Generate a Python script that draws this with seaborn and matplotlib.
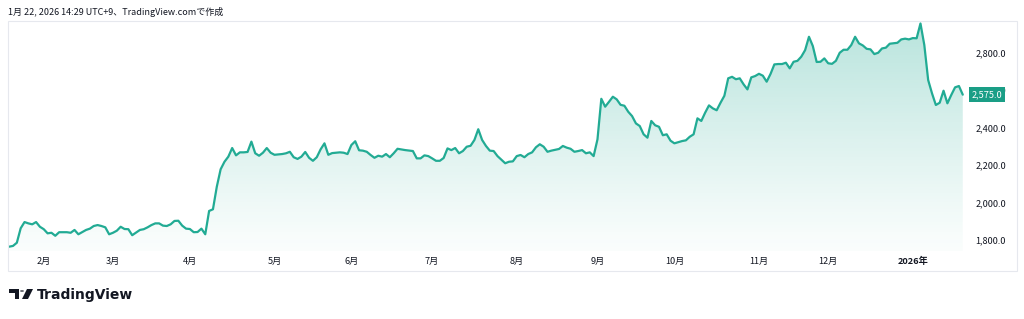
import numpy as np
import pandas as pd
import matplotlib
matplotlib.use("Agg")
import matplotlib.pyplot as plt
import matplotlib.colors as mcolors
from matplotlib.patches import Rectangle, Polygon, Circle
import seaborn as sns

# ---------------- data (trading-session index, close price) ----------------
session = [0, 1, 2, 3, 4, 5, 6, 7, 8, 9, 10, 11, 12, 13, 15, 16, 17, 18, 20, 21,
           22, 23, 24, 25, 26, 27, 28, 29, 30, 31, 32, 34, 35, 36, 37, 38, 39, 40, 41, 42,
           43, 44, 45, 46, 47, 48, 49, 50, 51, 52, 53, 54, 55, 56, 57, 58, 59, 60, 61, 62,
           63, 64, 65, 66, 67, 68, 69, 71, 72, 73, 74, 75, 76, 77, 78, 79, 80, 81, 82, 83,
           84, 86, 87, 88, 89, 90, 91, 92, 93, 94, 95, 96, 97, 98, 99, 100, 101, 103, 105, 106,
           107, 108, 109, 110, 111, 112, 113, 114, 115, 116, 117, 118, 119, 120, 121, 122, 123,
           124, 125, 126, 127, 129, 130, 131, 132, 133, 134, 135, 136, 137, 138, 139, 140, 141,
           143, 144, 145, 146, 147, 148, 149, 150, 151, 152, 153, 154, 155, 156, 157, 158, 159,
           160, 161, 162, 163, 164, 165, 166, 167, 168, 169, 170, 171, 172, 173, 175, 176, 177,
           178, 179, 180, 181, 182, 183, 184, 185,
           186, 187, 188, 189, 190, 191, 192, 193, 194, 195, 196, 197, 198, 199, 200, 201, 202,
           203, 204, 205, 206, 207, 208, 209, 210, 211, 212, 213, 214, 215, 216, 217, 218, 219,
           220, 221, 222, 223, 224, 225, 226, 227, 228, 229, 231, 232, 233, 234, 235, 236, 237,
           238, 239, 240, 241, 242, 243, 244, 245, 246, 247, 248]
price = [1766, 1770, 1787, 1864, 1897, 1890, 1885, 1897, 1872, 1859, 1837, 1840, 1824, 1843, 1843, 1840, 1855, 1832, 1855, 1862,
         1876, 1881, 1876, 1869, 1832, 1840, 1851, 1872, 1860, 1859, 1827, 1855, 1859, 1869, 1881, 1890, 1890, 1878, 1876, 1885,
         1903, 1904, 1878, 1862, 1860, 1843, 1844, 1862, 1832, 1956, 1965, 2085, 2178, 2218, 2245, 2291, 2252, 2268, 2268, 2270,
         2325, 2263, 2250, 2266, 2291, 2266, 2255, 2259, 2263, 2271, 2242, 2233, 2245, 2270, 2239, 2223, 2242, 2284, 2316, 2255,
         2264, 2268, 2266, 2259, 2307, 2327, 2279, 2277, 2271, 2254, 2239, 2250, 2245, 2259, 2242, 2263, 2287, 2280, 2275, 2236,
         2236, 2252, 2248, 2236, 2223, 2223, 2238, 2289, 2280, 2291, 2263, 2275, 2298, 2303, 2334, 2391, 2334,
         2302, 2277, 2275, 2248, 2210, 2218, 2220, 2248, 2254, 2242, 2259, 2268, 2295, 2311, 2298, 2271, 2277,
         2286, 2302, 2293, 2287, 2271, 2275, 2280, 2263, 2268, 2248, 2337, 2553, 2511, 2537, 2564, 2550, 2521,
         2516, 2484, 2461, 2422, 2408, 2364, 2346, 2435, 2412, 2404, 2359, 2364, 2330, 2316, 2328, 2332, 2351,
         2364, 2449, 2435, 2479, 2518, 2502, 2492, 2532,
         2569, 2662, 2670, 2657, 2662, 2630, 2603, 2667, 2674, 2686, 2676, 2644, 2685, 2736, 2738, 2738, 2745,
         2715, 2750, 2755, 2777, 2812, 2883, 2834, 2749, 2750, 2768, 2742, 2739, 2755, 2798, 2814, 2814, 2839,
         2883, 2848, 2837, 2819, 2816, 2791, 2798, 2821, 2825, 2846, 2851, 2869, 2873, 2869, 2876, 2875, 2954,
         2839, 2653, 2582, 2520, 2532, 2596, 2529, 2573, 2614, 2621, 2575]

month_pos = [9, 27, 47, 69, 89, 110, 132, 153, 173, 195, 213, 235]
month_labels = ["2月", "3月", "4月", "5月", "6月", "7月", "8月", "9月", "10月", "11月", "12月", "2026年"]
price_ticks = [1800, 2000, 2200, 2400, 2600, 2800]
last_price = 2575.0
header_text = "1月 22, 2026 14:29 UTC+9、TradingView.comで作成"
brand_text = "TradingView"

# ---------------- style ----------------
sns.set_theme(style="white")
plt.rcParams['font.family'] = ['Noto Sans CJK JP', 'DejaVu Sans']

LINE = '#22AB94'
LABEL_BG = '#1A9E86'
TXT = '#131722'
W, H = 1024, 319

fig = plt.figure(figsize=(W / 100, H / 100), dpi=100)
fig.patch.set_facecolor('white')

# chart frame
fig.patches.append(Rectangle((8 / W, 1 - 271 / H), (1017 - 8) / W, (271 - 21) / H,
                             transform=fig.transFigure, fill=False, ec='#E6E8EE', lw=0.8))

ax = fig.add_axes([8 / W, 1 - 251 / H, (967 - 8) / W, (251 - 21) / H])
ax.set_facecolor('none')

df = pd.DataFrame({'session': session, 'price': price})
YMIN, YMAX = 1743, 2967
XMIN, XMAX = -0.3, 249.1

# gradient area fill under the line
poly = ax.fill_between(df['session'], df['price'], YMIN, color='none', lw=0)
top = df['price'].max()
n = 256
grad = np.linspace(0, 1, n).reshape(-1, 1)
rgba = np.zeros((n, 1, 4))
rgba[..., :3] = mcolors.to_rgb(LINE)
rgba[..., 3] = 0.02 + 0.30 * grad[..., 0:1] ** 1.1
im = ax.imshow(rgba, extent=[XMIN, XMAX, YMIN, top], origin='lower', aspect='auto',
               interpolation='bilinear', zorder=1)
im.set_clip_path(poly.get_paths()[0], transform=ax.transData)

sns.lineplot(data=df, x='session', y='price', ax=ax, color=LINE, lw=1.6, zorder=3)

ax.set_xlim(XMIN, XMAX)
ax.set_ylim(YMIN, YMAX)
ax.set_xlabel('')
ax.set_ylabel('')
for s in ax.spines.values():
    s.set_visible(False)
ax.grid(False)

ax.yaxis.tick_right()
ax.set_yticks(price_ticks)
ax.set_yticklabels([f"{v:,.1f}" for v in price_ticks])
ax.tick_params(axis='y', length=0, pad=6, labelsize=6.6, labelcolor=TXT)

ax.set_xticks(month_pos)
ax.set_xticklabels(month_labels)
ax.tick_params(axis='x', length=0, pad=4, labelsize=6.6, labelcolor=TXT)
ax.get_xticklabels()[-1].set_fontweight('bold')

# last price label
ax.annotate(f"{last_price:,.1f}", xy=(1, last_price), xycoords=('axes fraction', 'data'),
            xytext=(3.5, 0), textcoords='offset points', ha='left', va='center',
            fontsize=6.6, color='white', zorder=10,
            bbox=dict(boxstyle='square,pad=0.3', fc=LABEL_BG, ec='none'))

# header
fig.text(8 / W, 1 - 12 / H, header_text, fontsize=6.5, va='center', ha='left', color=TXT)

# brand logo
def px(x, y):
    return (x / W, 1 - y / H)

fig.patches.append(Polygon([px(9, 289), px(19, 289), px(19, 299), px(15, 299), px(15, 293), px(9, 293)],
                           closed=True, transform=fig.transFigure, fc='#131722', ec='none'))
fig.patches.append(Circle(px(22, 291), 2 / W, transform=fig.transFigure, fc='#131722', ec='none'))
fig.patches.append(Polygon([px(27, 289), px(33, 289), px(28, 299), px(22, 299)],
                           closed=True, transform=fig.transFigure, fc='#131722', ec='none'))
fig.text(37 / W, 1 - 299 / H, brand_text, fontsize=10, fontweight='bold', va='baseline', ha='left',
         color='#131722', family=['DejaVu Sans'])

fig.savefig('out.png', dpi=100, facecolor='white')
